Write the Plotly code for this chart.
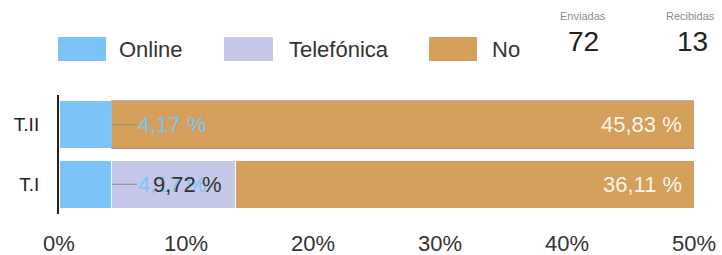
import plotly.graph_objects as go

categories = ["T.II", "T.I"]
online = [4.17, 4.17]
telefonica = [None, 9.72]
no = [45.83, 36.11]
x_ticks = [0, 10, 20, 30, 40, 50]
x_tick_labels = ["0%", "10%", "20%", "30%", "40%", "50%"]
series_names = ["Online", "Telefónica", "No"]
enviadas = 72
recibidas = 13

C_ONLINE = "#7cc4f7"
C_TEL = "#c5c8e8"
C_NO = "#d4a05c"
FONT = "Liberation Sans, Arial, sans-serif"

W, H = 722, 255
L, R, T, B = 59, 694, 95, 214


def px(x):
    return (x - L) / (R - L)


def py(y):
    return (B - y) / (B - T)


def fmt(v):
    return f"{v:.2f}".replace(".", ",") + " %"


fig = go.Figure()
fig.add_trace(go.Bar(y=categories, x=online, orientation="h", name=series_names[0],
                     marker=dict(color=C_ONLINE, line=dict(color="white", width=1)),
                     showlegend=False, hoverinfo="skip"))
fig.add_trace(go.Bar(y=categories, x=telefonica, orientation="h", name=series_names[1],
                     marker=dict(color=C_TEL, line=dict(color="white", width=1)),
                     showlegend=False, hoverinfo="skip"))
fig.add_trace(go.Bar(y=categories, x=no, orientation="h", name=series_names[2],
                     marker=dict(color=C_NO,
                                 line=dict(color=["rgba(150,150,150,0.7)", "white"], width=1)),
                     showlegend=False, hoverinfo="skip"))

ann = []
# Online labels with leader lines
for c, o in zip(categories, online):
    ann.append(dict(x=o, y=c, xref="x", yref="y", text=fmt(o), showarrow=True,
                    arrowhead=0, arrowwidth=1, arrowcolor="#8a8a8a", ax=61, ay=0,
                    standoff=0, font=dict(family=FONT, size=22, color=C_ONLINE)))
# Telefónica labels
for c, o, t in zip(categories, online, telefonica):
    if t:
        ann.append(dict(x=o + t / 2, y=c, xref="x", yref="y", text=fmt(t), showarrow=False,
                        xshift=14, font=dict(family=FONT, size=22, color="#333333")))
# No labels
for c, o, t, n in zip(categories, online, telefonica, no):
    total = o + (t or 0) + n
    ann.append(dict(x=total, y=c, xref="x", yref="y", text=fmt(n), showarrow=False,
                    xanchor="right", xshift=-10,
                    font=dict(family=FONT, size=22, color="rgba(255,255,255,0.92)")))

# Custom legend
shapes = []
legend_items = [(58, 106, 117, series_names[0], C_ONLINE),
                (224, 273, 287, series_names[1], C_TEL),
                (429, 477, 490, series_names[2], C_NO)]
for x0, x1, tx, name, col in legend_items:
    shapes.append(dict(type="rect", xref="paper", yref="paper", x0=px(x0), x1=px(x1),
                       y0=py(61), y1=py(37), fillcolor=col, line=dict(width=0), layer="above"))
    ann.append(dict(x=px(tx), y=py(49), xref="paper", yref="paper", text=name,
                    showarrow=False, xanchor="left", yanchor="middle",
                    font=dict(family=FONT, size=22, color="#333333")))

# Counters
for cx, cx2, label, val in [(583, 583, "Enviadas", enviadas), (690, 692, "Recibidas", recibidas)]:
    ann.append(dict(x=px(cx), y=py(16), xref="paper", yref="paper", text=label,
                    showarrow=False, xanchor="center", yanchor="middle",
                    font=dict(family=FONT, size=11, color="#8c8c8c")))
    ann.append(dict(x=px(cx2), y=py(41), xref="paper", yref="paper", text=str(val),
                    showarrow=False, xanchor="center", yanchor="middle",
                    font=dict(family=FONT, size=28, color="#222222")))

fig.update_layout(
    width=W, height=H,
    margin=dict(l=L, r=W - R, t=T, b=H - B, pad=0, autoexpand=False),
    barmode="stack", bargap=0.19,
    plot_bgcolor="white", paper_bgcolor="white",
    annotations=ann, shapes=shapes,
    showlegend=False,
    xaxis=dict(range=[0, 50], tickvals=x_ticks, ticktext=x_tick_labels,
               showgrid=False, zeroline=False, showline=False, ticks="",
               ticklabelstandoff=14, automargin=False,
               tickfont=dict(family=FONT, size=22, color="#333333"), fixedrange=True),
    yaxis=dict(categoryorder="array", categoryarray=categories[::-1],
               showgrid=False, zeroline=False, showline=True, linecolor="#222222",
               linewidth=2, ticks="", ticklabelstandoff=14, automargin=False,
               tickfont=dict(family=FONT, size=19, color="#222222"), fixedrange=True),
)

fig.write_html("out.html", config={"displayModeBar": False},
               post_script="document.body.style.margin='0';document.body.style.overflow='hidden';")
